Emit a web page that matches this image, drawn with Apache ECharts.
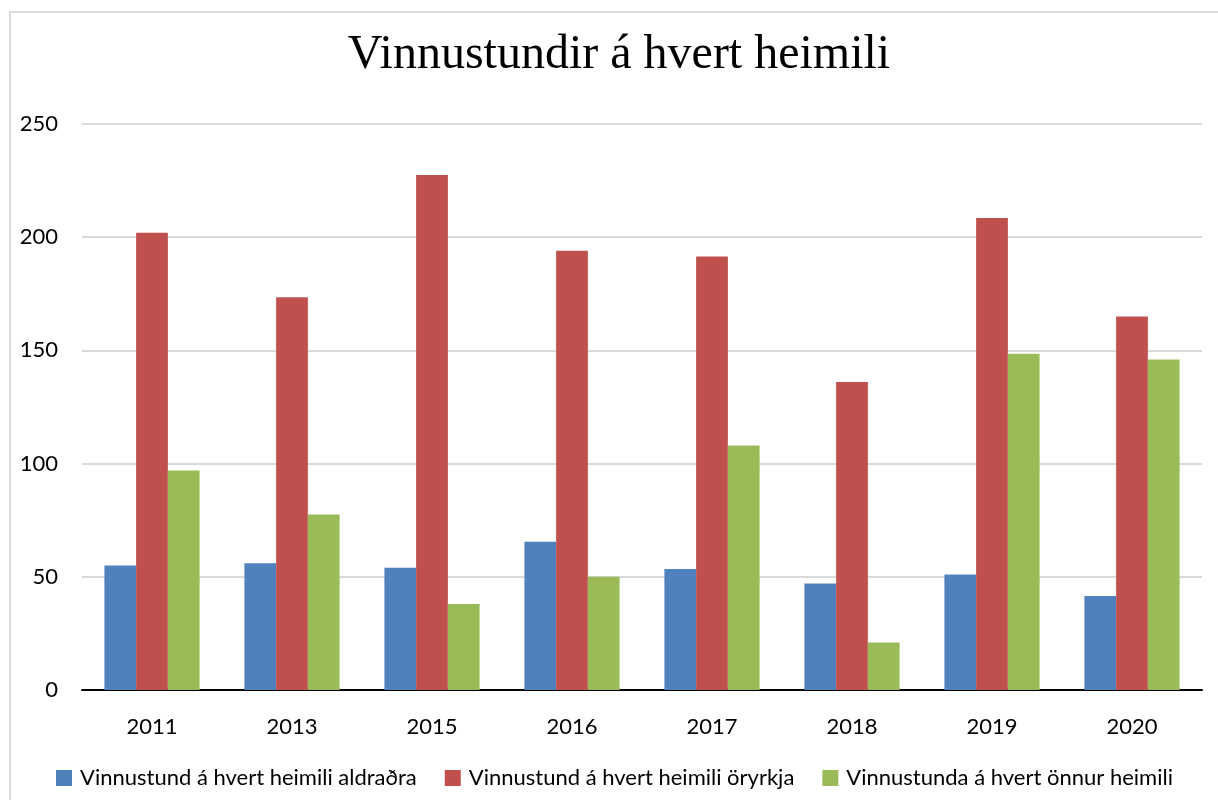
<!DOCTYPE html>
<html>
<head>
<meta charset="utf-8">
<script src="https://cdn.jsdelivr.net/npm/echarts@6/dist/echarts.min.js"></script>
<style>
html,body{margin:0;padding:0;background:#fff;}
#chart{width:1218px;height:800px;}
</style>
</head>
<body>
<div id="chart"></div>
<script>
const categories = ['2011','2013','2015','2016','2017','2018','2019','2020'];
const seriesNames = ['Vinnustund á hvert heimili aldraðra','Vinnustund á hvert heimili öryrkja','Vinnustunda á hvert önnur heimili'];
const aldradra = [55, 56, 54, 65.5, 53.5, 47, 51, 41.5];
const oryrkja = [202, 173.5, 227.5, 194, 191.5, 136, 208.5, 165];
const onnur = [97, 77.5, 38, 50, 108, 21, 148.5, 146];
const colors = ['#4F81BD','#C0504D','#9BBB59'];

const chart = echarts.init(document.getElementById('chart'));
const labelFont = 'Lato, "Open Sans", sans-serif';
chart.setOption({
  animation: false,
  color: colors,
  title: {
    text: 'Vinnustundir á hvert heimili',
    left: 614, textAlign: 'center', top: 26,
    textStyle: {fontFamily: '"Liberation Serif", "Times New Roman", serif', fontSize: 48, fontWeight: 'normal', color: '#000'}
  },
  graphic: [{
    type: 'polyline',
    shape: {points: [[10, 810], [10, 12], [1230, 12]]},
    style: {stroke: '#d9d9d9', lineWidth: 2, fill: null},
    silent: true
  }],
  legend: {
    left: 51, top: 762,
    itemWidth: 16, itemHeight: 16, itemGap: 28,
    icon: 'rect',
    textStyle: {fontFamily: labelFont, fontSize: 22, color: '#000', padding: [0,0,0,3]},
    data: seriesNames
  },
  grid: {left: 82, right: 16, top: 124, bottom: 110, containLabel: false},
  xAxis: {
    type: 'category', data: categories,
    axisLine: {lineStyle: {color: '#000', width: 2}},
    axisTick: {show: false},
    axisLabel: {fontFamily: labelFont, fontSize: 22, color: '#000', margin: 26}
  },
  yAxis: {
    type: 'value', min: 0, max: 250, interval: 50,
    axisLine: {show: false}, axisTick: {show: false},
    splitLine: {lineStyle: {color: '#d9d9d9', width: 2}},
    axisLabel: {fontFamily: labelFont, fontSize: 22, color: '#000', margin: 24}
  },
  series: [
    {name: seriesNames[0], type: 'bar', data: aldradra, barGap: '0%', barCategoryGap: '32%'},
    {name: seriesNames[1], type: 'bar', data: oryrkja, barGap: '0%', barCategoryGap: '32%'},
    {name: seriesNames[2], type: 'bar', data: onnur, barGap: '0%', barCategoryGap: '32%'}
  ]
});
</script>
</body>
</html>
